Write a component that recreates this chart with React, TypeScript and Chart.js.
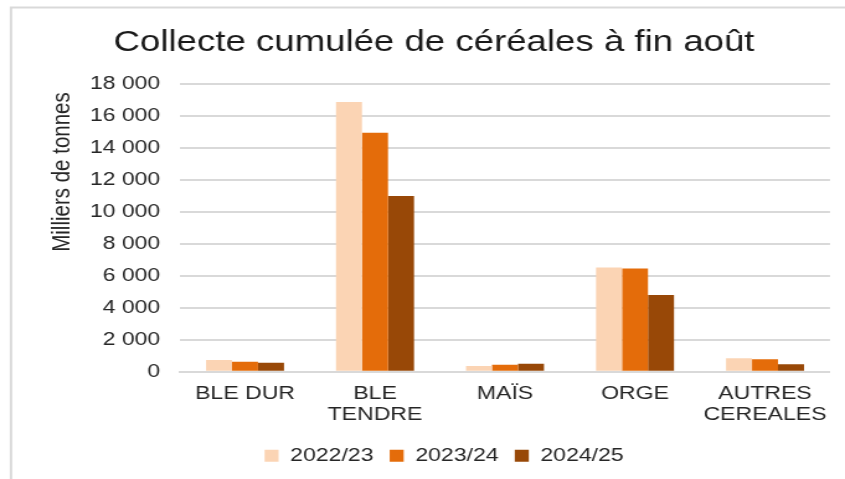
import React, { useEffect, useRef } from "react";
import { Chart, registerables } from "chart.js";

Chart.register(...registerables);

// ---- data ----
const categories: (string | string[])[] = [
  "BLE DUR",
  ["BLE", "TENDRE"],
  "MAÏS",
  "ORGE",
  ["AUTRES", "CEREALES"],
];
const seriesLabels = ["2022/23", "2023/24", "2024/25"];
const values2022 = [736, 16880, 360, 6520, 840];
const values2023 = [630, 14950, 440, 6450, 775];
const values2024 = [565, 11000, 500, 4800, 460];
const seriesColors = ["#fbd4b4", "#e46c0a", "#984807"];
const yMin = 0;
const yMax = 18000;
const yStep = 2000;
const chartTitle = "Collecte cumulée de céréales à fin août";
const yAxisTitle = "Milliers de tonnes";

// ---- geometry (internal canvas coords, canvas is stretched horizontally) ----
const W = 681;
const H = 479;
const SX = 845 / W;
const FONT = "'Liberation Sans', Arial, Helvetica, sans-serif";
const PAD_LEFT = 47;

const fmt = (v: number) =>
  Math.round(v)
    .toString()
    .replace(/\B(?=(\d{3})+(?!\d))/g, " ");

export default function App() {
  const ref = useRef<HTMLCanvasElement>(null);

  useEffect(() => {
    const canvas = ref.current;
    if (!canvas) return;

    const deco = {
      id: "deco",
      beforeDraw(chart: any) {
        const ctx = chart.ctx as CanvasRenderingContext2D;
        ctx.save();
        ctx.strokeStyle = "#d9d9d9";
        ctx.lineWidth = 2;
        ctx.beginPath();
        ctx.moveTo(11 / SX, H + 2);
        ctx.lineTo(11 / SX, 7.5);
        ctx.lineTo(W + 2, 7.5);
        ctx.stroke();
        ctx.restore();
      },
      afterDraw(chart: any) {
        const ctx = chart.ctx as CanvasRenderingContext2D;
        ctx.save();
        ctx.fillStyle = "#1a1a1a";
        ctx.font = `29.5px ${FONT}`;
        ctx.textAlign = "center";
        ctx.textBaseline = "alphabetic";
        ctx.fillText(chartTitle, 434 / SX, 51);
        ctx.translate(63 / SX, 172);
        ctx.rotate(-Math.PI / 2);
        ctx.font = `20.5px ${FONT}`;
        ctx.textBaseline = "middle";
        ctx.fillStyle = "#262626";
        ctx.fillText(yAxisTitle, 0, 0);
        ctx.restore();
      },
    };

    const chart = new Chart(canvas, {
      type: "bar",
      data: {
        labels: categories as any,
        datasets: [
          { label: seriesLabels[0], data: values2022, backgroundColor: seriesColors[0], borderWidth: 0 },
          { label: seriesLabels[1], data: values2023, backgroundColor: seriesColors[1], borderWidth: 0 },
          { label: seriesLabels[2], data: values2024, backgroundColor: seriesColors[2], borderWidth: 0 },
        ],
      },
      options: {
        responsive: false,
        animation: false,
        devicePixelRatio: 1,
        layout: { padding: { left: PAD_LEFT, right: W - 830 / SX, top: 84, bottom: 4 } },
        datasets: { bar: { categoryPercentage: 0.6, barPercentage: 1.0 } },
        plugins: {
          title: { display: false },
          tooltip: { enabled: false },
          legend: {
            display: true,
            position: "bottom",
            labels: {
              font: { family: FONT, size: 18.6 },
              color: "#262626",
              boxWidth: 11.3,
              boxHeight: 12,
              padding: 13,
            },
          },
        },
        scales: {
          x: {
            grid: { display: false, drawTicks: false },
            border: { display: true, color: "#d9d9d9", width: 2 },
            ticks: {
              font: { family: FONT, size: 18.6, lineHeight: 1.1 },
              color: "#262626",
              padding: 12,
              maxRotation: 0,
              autoSkip: false,
            },
            afterFit: (s: any) => {
              s.height = 61.7;
            },
          },
          y: {
            min: yMin,
            max: yMax,
            grid: { color: "#d9d9d9", lineWidth: 2, drawTicks: false },
            border: { display: false },
            ticks: {
              stepSize: yStep,
              font: { family: FONT, size: 18.5 },
              color: "#262626",
              padding: 16,
              callback: (v: any) => fmt(Number(v)),
            },
            afterFit: (s: any) => {
              s.width = 180 / SX - PAD_LEFT;
            },
          },
        },
      },
      plugins: [deco],
    });

    return () => chart.destroy();
  }, []);

  return (
    <canvas
      ref={ref}
      width={W}
      height={H}
      style={{
        position: "fixed",
        left: 0,
        top: 0,
        transform: `scaleX(${SX})`,
        transformOrigin: "0 0",
      }}
    />
  );
}
